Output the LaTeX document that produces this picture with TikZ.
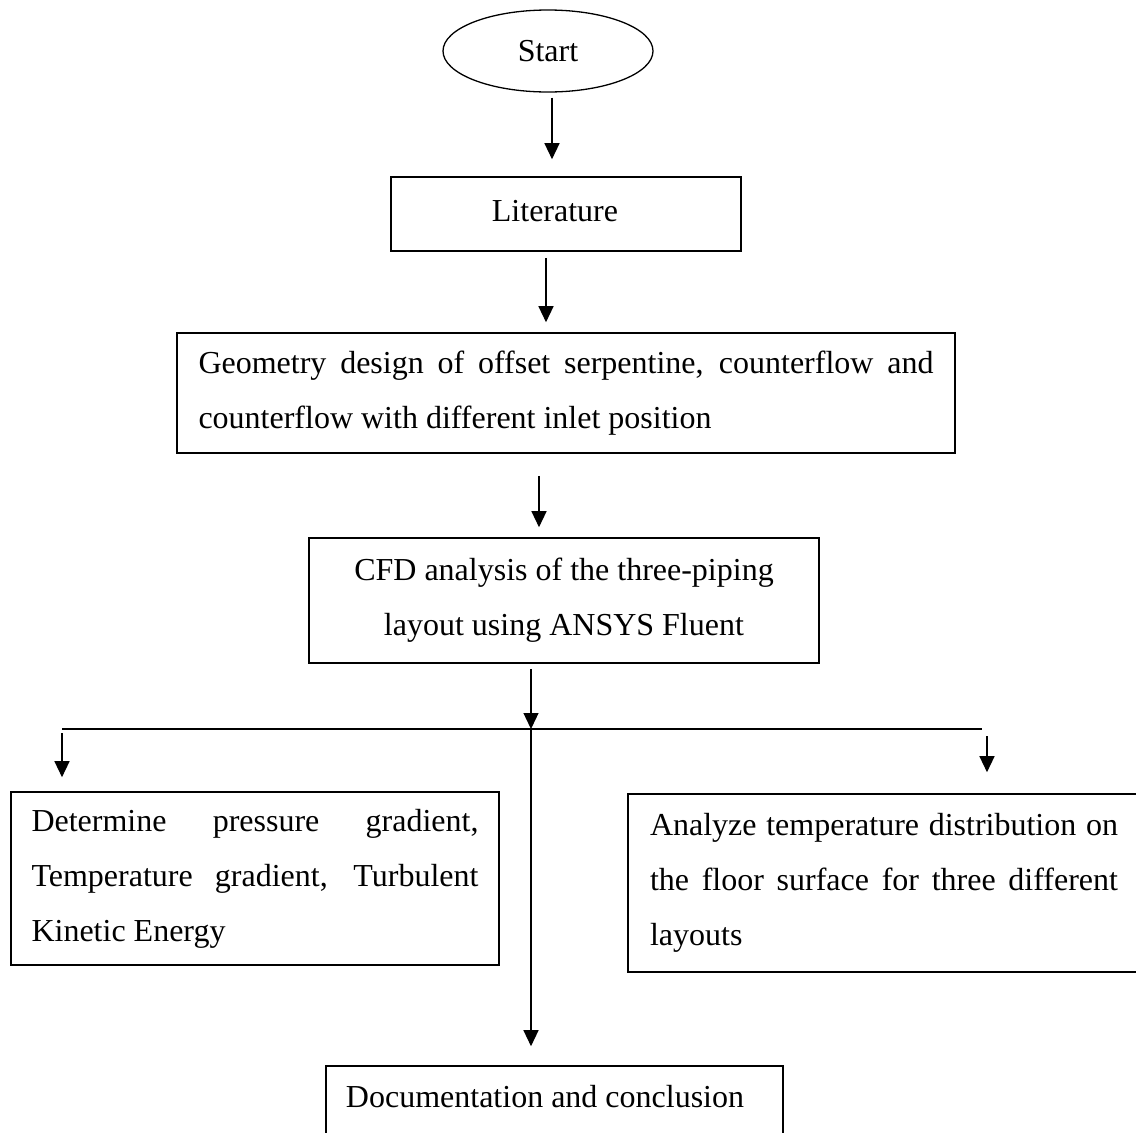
\documentclass[tikz,border=0pt]{standalone}
\usepackage{fontspec}
\setmainfont{Liberation Serif}
\usetikzlibrary{arrows.meta,shapes.geometric}
\begin{document}
\begin{tikzpicture}[x=1pt,y=-1pt, font=\fontsize{32}{55}\selectfont,
  box/.style={draw, line width=1.6pt, inner sep=0pt, rectangle},
  arr/.style={line width=1.3pt, -{Triangle[length=16pt,width=15pt]}}]
\useasboundingbox (0,0) rectangle (1136,1133);
\fill[white] (0,0) rectangle (1136,1133);
\clip (0,0) rectangle (1136,1133);

\node[draw, ellipse, line width=1.3pt, minimum width=210pt, minimum height=82pt, inner sep=0pt] (start) at (548,51) {Start};
\node[box, minimum width=350pt, minimum height=74pt] (lit) at (566,214) {};
\node (littext) at (555,211) {Literature};
\node[box, minimum width=778pt, minimum height=120pt, text width=735pt, align=justify] (geo) at (566,393)
  {Geometry design of offset serpentine, counterflow and\linebreak counterflow with different inlet position};
\node[box, minimum width=510pt, minimum height=125pt, align=center] (cfd) at (564,600.5)
  {CFD analysis of the three-piping\\layout using ANSYS Fluent};
\node[box, minimum width=488pt, minimum height=173pt, text width=447pt, align=justify] (det) at (255,878.5)
  {Determine pressure gradient,\linebreak Temperature gradient, Turbulent\linebreak Kinetic Energy};
\node[box, minimum width=512pt, minimum height=178pt, text width=468pt, align=justify] (ana) at (884,883)
  {Analyze temperature distribution on\linebreak the floor surface for three different\linebreak layouts};
\node[box, minimum width=457pt, minimum height=90pt] (doc) at (554.5,1111) {};
\node (doctext) at (545,1097) {Documentation and conclusion};

\coordinate (j) at (531,729);
\coordinate (bl) at (62,729);
\coordinate (br) at (982,729);
\coordinate (la) at (62,733);
\coordinate (ra) at (987,736);

\draw[arr] ([xshift=4pt,yshift=-5pt]start.south) -- ([xshift=-14pt,yshift=17pt]lit.north);
\draw[arr] ([xshift=-20pt,yshift=-6pt]lit.south) -- ([xshift=-20pt,yshift=10pt]geo.north);
\draw[arr] ([xshift=-27pt,yshift=-22pt]geo.south) -- ([xshift=-25pt,yshift=10pt]cfd.north);
\draw[arr] ([xshift=-33pt,yshift=-5pt]cfd.south) -- (j);
\draw[line width=1.8pt] (bl) -- (br);
\draw[arr] (j) -- ([xshift=-23.5pt,yshift=19pt]doc.north);
\draw[arr] (la) -- ([xshift=-193pt,yshift=14pt]det.north);
\draw[arr] (ra) -- ([xshift=103pt,yshift=21pt]ana.north);
\end{tikzpicture}
\end{document}
